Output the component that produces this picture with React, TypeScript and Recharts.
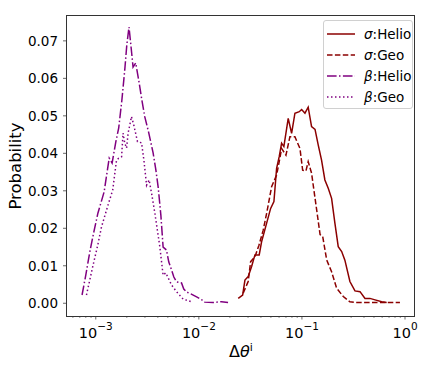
import React from "react";
import { LineChart, Line, XAxis, YAxis } from "recharts";

const FONT = '"DejaVu Sans", sans-serif';
const RED = "#8b0000";
const PURPLE = "#800080";

// sigma : Helio (solid)
const sigmaHelioX = [
  0.0241, 0.0266, 0.028, 0.0301, 0.0325, 0.035, 0.0385, 0.0406, 0.0454, 0.0497,
  0.0535, 0.0568, 0.0602, 0.0635, 0.0668, 0.0736, 0.0794, 0.0855, 0.0942, 0.0993,
  0.107, 0.115, 0.124, 0.134, 0.144, 0.155, 0.167, 0.18, 0.194, 0.209,
  0.225, 0.243, 0.261, 0.292, 0.327, 0.366, 0.409, 0.457, 0.512, 0.594, 0.664,
];
const sigmaHelioY = [
  0.0013, 0.0022, 0.0062, 0.0071, 0.0098, 0.0129, 0.0129, 0.0164, 0.0213, 0.0253,
  0.0271, 0.036, 0.0391, 0.0427, 0.0418, 0.0493, 0.0453, 0.0507, 0.0511, 0.0517,
  0.0507, 0.0523, 0.0471, 0.0464, 0.0422, 0.0382, 0.0329, 0.0307, 0.028, 0.0213,
  0.0151, 0.0138, 0.0115, 0.0058, 0.0033, 0.0031, 0.0013, 0.0013, 0.0009, 0.0004, 0.0002,
];

// sigma : Geo (dashed)
const sigmaGeoX = [
  0.0269, 0.0301, 0.0318, 0.035, 0.0383, 0.0421, 0.0457, 0.0508, 0.0568, 0.0611,
  0.0635, 0.07, 0.0764, 0.0855, 0.0957, 0.1016, 0.1094, 0.115, 0.124, 0.139,
  0.15, 0.159, 0.174, 0.194, 0.217, 0.252, 0.292, 0.327, 0.893,
];
const sigmaGeoY = [
  0.0027, 0.0058, 0.0111, 0.0124, 0.0155, 0.0195, 0.0243, 0.0311, 0.0342, 0.0387,
  0.0413, 0.0395, 0.0444, 0.0444, 0.0413, 0.0355, 0.0353, 0.0378, 0.0347, 0.0249,
  0.0183, 0.0178, 0.0115, 0.0084, 0.004, 0.0018, 0.0004, 0.0002, 0.0002,
];

// beta : Helio (dash-dot)
const betaHelioX = [
  0.000736, 0.0008, 0.000875, 0.000957, 0.00105, 0.001205, 0.00135, 0.00144, 0.001563, 0.00167,
  0.00179, 0.00191, 0.002, 0.0021, 0.00219, 0.0023, 0.00244, 0.00261, 0.0028, 0.00299,
  0.00327, 0.0036, 0.00383, 0.00403, 0.00428, 0.0045, 0.00485, 0.00511, 0.00543, 0.00572,
  0.00607, 0.00679, 0.00714, 0.0076, 0.00836, 0.00951, 0.01045, 0.0114, 0.0137, 0.0166, 0.0192,
];
const betaHelioY = [
  0.0022, 0.0075, 0.0137, 0.019, 0.0241, 0.0297, 0.0387, 0.0374, 0.043, 0.0468,
  0.0541, 0.0622, 0.0689, 0.0737, 0.0689, 0.063, 0.0641, 0.0595, 0.0542, 0.0497,
  0.0454, 0.0401, 0.0355, 0.031, 0.0235, 0.015, 0.0142, 0.011, 0.0089, 0.007,
  0.0057, 0.0054, 0.0038, 0.003, 0.0025, 0.0017, 0.0011, 0.0003, 0.0002, 0.0004, 0.0002,
];

// beta : Geo (dotted)
const betaGeoX = [
  0.000812, 0.000942, 0.001045, 0.001135, 0.001315, 0.00146, 0.00159, 0.00167, 0.00178, 0.00184,
  0.00191, 0.00199, 0.00206, 0.00222, 0.00234, 0.00254, 0.00278, 0.00293, 0.00311, 0.00329,
  0.0035, 0.00374, 0.00418, 0.0045, 0.00478, 0.00543, 0.00607, 0.00704, 0.00849,
];
const betaGeoY = [
  0.0022, 0.0102, 0.0155, 0.0203, 0.0262, 0.0302, 0.0382, 0.0387, 0.0391, 0.0454,
  0.0427, 0.0414, 0.0454, 0.0498, 0.0475, 0.0431, 0.0428, 0.0382, 0.0315, 0.0329,
  0.0289, 0.0241, 0.0151, 0.0075, 0.0081, 0.0049, 0.0031, 0.0011, 0.0004,
];

const majorTicks = [0.001, 0.01, 0.1, 1];
const majorExp = ["\u22123", "\u22122", "\u22121", "0"];
const minorTicks = [
  0.0006, 0.0007, 0.0008, 0.0009,
  0.002, 0.003, 0.004, 0.005, 0.006, 0.007, 0.008, 0.009,
  0.02, 0.03, 0.04, 0.05, 0.06, 0.07, 0.08, 0.09,
  0.2, 0.3, 0.4, 0.5, 0.6, 0.7, 0.8, 0.9,
];
const yTicks = [0, 0.01, 0.02, 0.03, 0.04, 0.05, 0.06, 0.07];

const zip = (xs: number[], ys: number[]) => xs.map((x, i) => ({ x, p: ys[i] }));

const series = [
  { name: "Helio", sym: "\u03c3", data: zip(sigmaHelioX, sigmaHelioY), color: RED, dash: undefined },
  { name: "Geo", sym: "\u03c3", data: zip(sigmaGeoX, sigmaGeoY), color: RED, dash: "5.5 2.4" },
  { name: "Helio", sym: "\u03b2", data: zip(betaHelioX, betaHelioY), color: PURPLE, dash: "9.6 2.4 1.5 2.4" },
  { name: "Geo", sym: "\u03b2", data: zip(betaGeoX, betaGeoY), color: PURPLE, dash: "1.5 2.5" },
];

const XTick = (props: any) => {
  const { x, y, payload } = props;
  const i = majorTicks.indexOf(payload.value);
  if (i < 0) {
    return <line x1={x} x2={x} y1={y} y2={y + 2} stroke="#444" strokeWidth={0.6} />;
  }
  return (
    <g>
      <line x1={x} x2={x} y1={y} y2={y + 3.5} stroke="#444" strokeWidth={0.8} />
      <text x={x} y={y + 21.5} textAnchor="middle" fontSize={14.5} fill="#000" fontFamily={FONT}>
        10
        <tspan dy={-7.5} fontSize={10.5}>
          {majorExp[i]}
        </tspan>
      </text>
    </g>
  );
};

export default function App() {
  return (
    <div
      style={{
        position: "absolute",
        left: 0,
        top: 0,
        width: 429,
        height: 380,
        background: "#fff",
        fontFamily: FONT,
      }}
    >
      <LineChart
        width={429}
        height={380}
        margin={{ top: 15, right: 14, bottom: 34, left: 0 }}
      >
        <XAxis
          xAxisId={0}
          dataKey="x"
          type="number"
          scale="log"
          domain={[0.00052, 1.25]}
          allowDataOverflow
          ticks={[...majorTicks, ...minorTicks]}
          interval={0}
          tick={<XTick />}
          tickLine={false}
          tickSize={0}
          tickMargin={0}
          axisLine={false}
          height={30}
        />
        <YAxis
          type="number"
          domain={[-0.0034, 0.0769]}
          allowDataOverflow
          ticks={yTicks}
          interval={0}
          tickFormatter={(v: number) => v.toFixed(2)}
          tick={{ fontSize: 13.5, fill: "#000", fontFamily: FONT }}
          tickLine={{ stroke: "#444", strokeWidth: 0.8 }}
          tickSize={3.5}
          tickMargin={5}
          axisLine={false}
          width={66.5}
        />
        {series.map((s, i) => (
          <Line
            key={i}
            data={s.data}
            dataKey="p"
            type="linear"
            stroke={s.color}
            strokeWidth={1.5}
            strokeDasharray={s.dash}
            dot={false}
            activeDot={false}
            isAnimationActive={false}
          />
        ))}
      </LineChart>

      {/* axes frame */}
      <div
        style={{
          position: "absolute",
          left: 66,
          top: 15,
          width: 349,
          height: 302,
          border: "1px solid #333",
          boxSizing: "border-box",
          pointerEvents: "none",
        }}
      />

      {/* y label */}
      <div
        style={{
          position: "absolute",
          left: 15,
          top: 166,
          transform: "translate(-50%, -50%) rotate(-90deg)",
          fontSize: 16.5,
          whiteSpace: "nowrap",
        }}
      >
        Probability
      </div>

      {/* x label */}
      <div
        style={{
          position: "absolute",
          left: 241,
          top: 351,
          transform: "translate(-50%, -50%)",
          fontSize: 16,
          whiteSpace: "nowrap",
        }}
      >
        Δ<i>θ</i>
        <sup style={{ fontSize: 11, verticalAlign: 6 }}>i</sup>
      </div>

      {/* legend */}
      <div
        style={{
          position: "absolute",
          left: 323,
          top: 20,
          width: 90,
          height: 89,
          border: "1px solid #d0d0d0",
          borderRadius: 3,
          background: "rgba(255,255,255,0.8)",
          boxSizing: "border-box",
        }}
      >
        {series.map((s, i) => (
          <div
            key={i}
            style={{
              position: "absolute",
              left: 3,
              top: 3 + i * 21,
              height: 20,
              display: "flex",
              alignItems: "center",
              fontSize: 13.5,
              whiteSpace: "nowrap",
            }}
          >
            <svg width={28} height={10} style={{ marginRight: 9 }}>
              <line x1={0} x2={28} y1={5} y2={5} stroke={s.color} strokeWidth={1.5} strokeDasharray={s.dash} />
            </svg>
            <span>
              <i>{s.sym}</i>:{s.name}
            </span>
          </div>
        ))}
      </div>
    </div>
  );
}
